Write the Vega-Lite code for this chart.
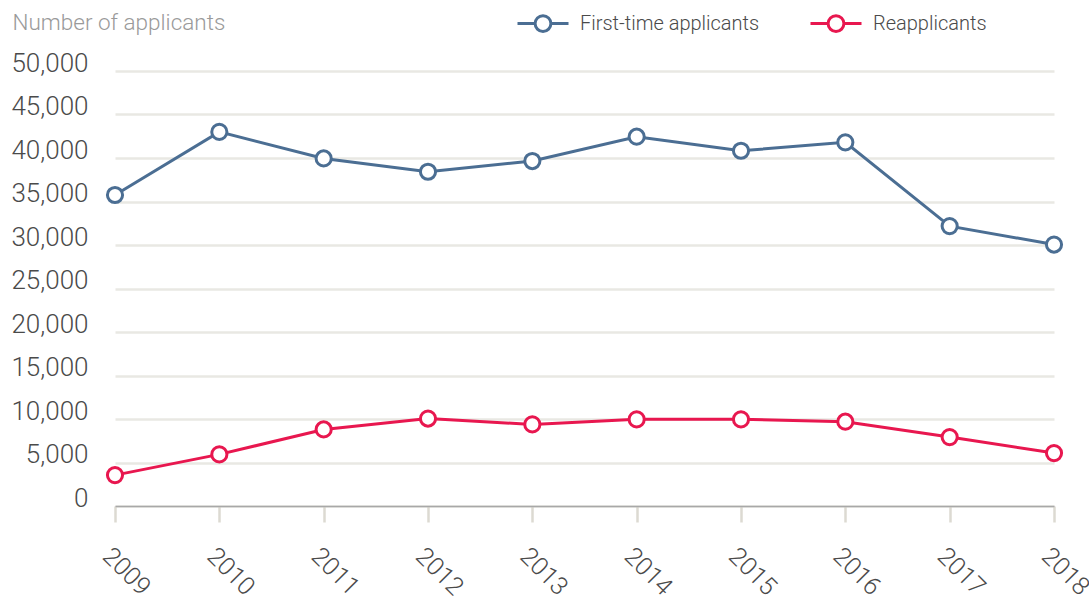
{
  "$schema": "https://vega.github.io/schema/vega-lite/v6.json",
  "width": 939,
  "height": 435,
  "autosize": "none",
  "padding": {"left": 115, "top": 71, "right": 35, "bottom": 95},
  "background": "white",
  "config": {
    "font": "Roboto",
    "view": {"stroke": null}
  },
  "data": {
    "values": [
      {"year": "2009", "series": "First-time applicants", "applicants": 35750},
      {"year": "2010", "series": "First-time applicants", "applicants": 43000},
      {"year": "2011", "series": "First-time applicants", "applicants": 39950},
      {"year": "2012", "series": "First-time applicants", "applicants": 38420},
      {"year": "2013", "series": "First-time applicants", "applicants": 39650},
      {"year": "2014", "series": "First-time applicants", "applicants": 42450},
      {"year": "2015", "series": "First-time applicants", "applicants": 40830},
      {"year": "2016", "series": "First-time applicants", "applicants": 41800},
      {"year": "2017", "series": "First-time applicants", "applicants": 32170},
      {"year": "2018", "series": "First-time applicants", "applicants": 30050},
      {"year": "2009", "series": "Reapplicants", "applicants": 3550},
      {"year": "2010", "series": "Reapplicants", "applicants": 5930},
      {"year": "2011", "series": "Reapplicants", "applicants": 8800},
      {"year": "2012", "series": "Reapplicants", "applicants": 10050},
      {"year": "2013", "series": "Reapplicants", "applicants": 9380},
      {"year": "2014", "series": "Reapplicants", "applicants": 9960},
      {"year": "2015", "series": "Reapplicants", "applicants": 9960},
      {"year": "2016", "series": "Reapplicants", "applicants": 9690},
      {"year": "2017", "series": "Reapplicants", "applicants": 7920},
      {"year": "2018", "series": "Reapplicants", "applicants": 6080}
    ]
  },
  "encoding": {
    "x": {
      "field": "year",
      "type": "ordinal",
      "scale": {"padding": 0},
      "axis": {
        "title": null,
        "labelAngle": 45,
        "labelAlign": "left",
        "labelBaseline": "top",
        "labelFontSize": 25,
        "labelFontWeight": 300,
        "labelColor": "#4a4a4a",
        "labelPadding": 21,
        "labelOverlap": false,
        "domainColor": "#a8a8a8",
        "domainWidth": 1.5,
        "tickColor": "#dcdad2",
        "tickSize": 16,
        "tickWidth": 2.5,
        "grid": false
      }
    },
    "y": {
      "field": "applicants",
      "type": "quantitative",
      "scale": {"domain": [0, 50000], "nice": false},
      "axis": {
        "values": [0, 5000, 10000, 15000, 20000, 25000, 30000, 35000, 40000, 45000, 50000],
        "format": ",d",
        "domain": false,
        "ticks": false,
        "grid": true,
        "gridColor": "#e9e8e3",
        "gridWidth": 2.5,
        "labelFontSize": 26,
        "labelFontWeight": 300,
        "labelColor": "#4a4a4a",
        "labelPadding": 27,
        "labelBaseline": "alphabetic",
        "title": "Number of applicants",
        "titleAngle": 0,
        "titleAlign": "left",
        "titleBaseline": "middle",
        "titleX": -103,
        "titleY": -49,
        "titleFontSize": 22.5,
        "titleFontWeight": 300,
        "titleColor": "#9a9a9a"
      }
    },
    "color": {
      "field": "series",
      "type": "nominal",
      "scale": {
        "domain": ["First-time applicants", "Reapplicants"],
        "range": ["#4b6e93", "#e8174f"]
      },
      "legend": {
        "title": null,
        "orient": "none",
        "direction": "horizontal",
        "legendX": 401,
        "legendY": -74.5,
        "padding": 0,
        "symbolType": "M-1,0L-0.31,0M0.31,0L1,0M0.31,0A0.31,0.31,0,1,1,-0.31,0A0.31,0.31,0,1,1,0.31,0Z",
        "symbolSize": 2601,
        "symbolStrokeWidth": 3,
        "symbolFillColor": "white",
        "symbolOpacity": 1,
        "labelFontSize": 20,
        "labelFontWeight": 300,
        "labelColor": "#4a4a4a",
        "labelOffset": 10,
        "columnPadding": 44,
        "labelLimit": 400,
        "encode": {
          "symbols": {"update": {"fill": {"value": "white"}, "strokeWidth": {"value": 3}, "opacity": {"value": 1}}}
        }
      }
    }
  },
  "layer": [
    {
      "mark": {"type": "line", "strokeWidth": 3}
    },
    {
      "mark": {"type": "point", "filled": false, "fill": "white", "fillOpacity": 1, "opacity": 1, "size": 230, "strokeWidth": 3}
    }
  ]
}
